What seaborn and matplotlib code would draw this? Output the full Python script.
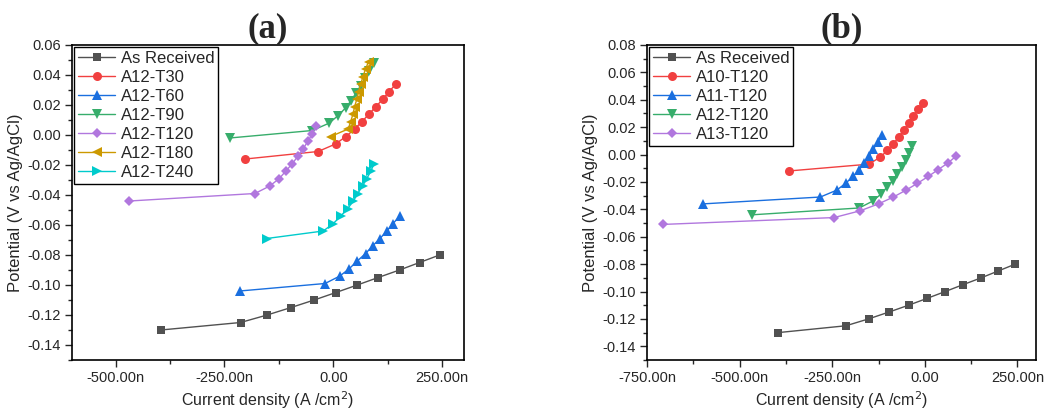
import matplotlib
matplotlib.use("Agg")
import matplotlib.pyplot as plt
import seaborn as sns
import pandas as pd
from matplotlib.ticker import MultipleLocator, FuncFormatter

# ---------------- data (current density in nA/cm^2, potential in V) -------------
ar_x = [-396, -213, -152, -97, -44, 6, 55, 103, 152, 198, 244]
ar_y = [-0.130, -0.125, -0.120, -0.115, -0.110, -0.105, -0.100, -0.095, -0.090, -0.085, -0.080]

# panel (a)
t30_x = [-202, -35, 5, 29, 49, 66, 82, 98, 114, 128, 144]
t30_y = [-0.016, -0.011, -0.006, -0.001, 0.004, 0.009, 0.014, 0.019, 0.024, 0.029, 0.034]
t60_x = [-215, -19, 15, 37, 55, 74, 90, 107, 123, 137, 153]
t60_y = [-0.104, -0.099, -0.094, -0.089, -0.084, -0.079, -0.074, -0.069, -0.064, -0.059, -0.054]
t90_x = [-238, -48, -9, 11, 28, 41, 52, 63, 73, 82, 94]
t90_y = [-0.002, 0.003, 0.008, 0.013, 0.018, 0.023, 0.028, 0.033, 0.038, 0.043, 0.048]
t120_x = [-468, -180, -146, -124, -109, -94, -81, -69, -58, -48, -40]
t120_y = [-0.044, -0.039, -0.034, -0.029, -0.024, -0.019, -0.014, -0.009, -0.004, 0.001, 0.006]
t180_x = [-6, 34, 40, 45, 49, 54, 58, 63, 68, 74, 81]
t180_y = [-0.001, 0.004, 0.009, 0.014, 0.019, 0.024, 0.029, 0.034, 0.039, 0.044, 0.049]
t240_x = [-153, -23, 0, 17, 33, 46, 56, 67, 77, 86, 94]
t240_y = [-0.069, -0.064, -0.059, -0.054, -0.049, -0.044, -0.039, -0.034, -0.029, -0.024, -0.019]

# panel (b)
a10_x = [-368, -151, -121, -101, -85, -70, -56, -43, -31, -18, -5]
a10_y = [-0.012, -0.007, -0.002, 0.003, 0.008, 0.013, 0.018, 0.023, 0.028, 0.033, 0.038]
a11_x = [-598, -282, -238, -214, -194, -177, -163, -150, -139, -127, -115]
a11_y = [-0.036, -0.031, -0.026, -0.021, -0.016, -0.011, -0.006, -0.001, 0.004, 0.009, 0.014]
a12_x = [-467, -177, -141, -119, -103, -87, -75, -63, -52, -42, -34]
a12_y = [-0.044, -0.039, -0.034, -0.029, -0.024, -0.019, -0.014, -0.009, -0.004, 0.001, 0.006]
a13_x = [-706, -245, -174, -125, -85, -51, -20, 9, 36, 63, 85]
a13_y = [-0.051, -0.046, -0.041, -0.036, -0.031, -0.026, -0.021, -0.016, -0.011, -0.006, -0.001]

labels_a = ["As Received", "A12-T30", "A12-T60", "A12-T90", "A12-T120", "A12-T180", "A12-T240"]
labels_b = ["As Received", "A10-T120", "A11-T120", "A12-T120", "A13-T120"]

# ---------------- styling ----------------
sns.set_theme(style="ticks")
plt.rcParams["font.family"] = ["Liberation Sans", "DejaVu Sans"]
plt.rcParams["axes.linewidth"] = 1.0

colors = ["#515151", "#F14040", "#1A6FDF", "#37AD6B", "#B177DE", "#CC9900", "#00CBCC"]
markers = ["s", "o", "^", "v", "D", "<", ">"]
msizes = [5.5, 6.5, 7, 7, 5.5, 7, 7]

fig = plt.figure(figsize=(10.47, 4.13), dpi=100)
W, H = 1047, 413
axA = fig.add_axes([72 / W, 1 - 360 / H, (464 - 72) / W, (360 - 45) / H])
axB = fig.add_axes([647 / W, 1 - 360 / H, (1036 - 647) / W, (360 - 45) / H])

series_a = [(ar_x, ar_y), (t30_x, t30_y), (t60_x, t60_y), (t90_x, t90_y),
            (t120_x, t120_y), (t180_x, t180_y), (t240_x, t240_y)]
series_b = [(ar_x, ar_y), (a10_x, a10_y), (a11_x, a11_y), (a12_x, a12_y), (a13_x, a13_y)]


def xfmt(v, pos):
    if abs(v) < 1e-9:
        return "0.00"
    return f"{v:.2f}n"


def draw(ax, series, labels, idxs):
    for (x, y), lab, i in zip(series, labels, idxs):
        df = pd.DataFrame({"x": x, "y": y})
        sns.lineplot(data=df, x="x", y="y", ax=ax, sort=False, estimator=None,
                     color=colors[i], marker=markers[i], markersize=msizes[i],
                     markeredgewidth=0, linewidth=1.0, label=lab)
    ax.set_xlabel("Current density (A /cm$^2$)", fontsize=11.5, labelpad=3)
    ax.set_ylabel("Potential (V vs Ag/AgCl)", fontsize=12, labelpad=3)
    ax.xaxis.set_major_formatter(FuncFormatter(xfmt))
    ax.yaxis.set_major_formatter(FuncFormatter(lambda v, p: f"{v:.2f}" if abs(v) > 1e-9 else "0.00"))
    ax.tick_params(which="major", direction="out", length=5, width=1, labelsize=10.5,
                   top=False, right=False, pad=3)
    ax.tick_params(which="minor", direction="out", length=3, width=1, top=False, right=False)
    for s in ax.spines.values():
        s.set_visible(True)
        s.set_color("black")
        s.set_linewidth(1.2)
    leg = ax.legend(loc="upper left", fontsize=12, frameon=True, fancybox=False,
                    edgecolor="black", framealpha=1, borderaxespad=0.12,
                    handlelength=2.2, handletextpad=0.35, labelspacing=0.24,
                    borderpad=0.25)
    leg.get_frame().set_linewidth(1.0)


draw(axA, series_a, labels_a, list(range(7)))
axA.set_xlim(-600, 300)
axA.set_ylim(-0.15, 0.06)
axA.xaxis.set_major_locator(MultipleLocator(250))
axA.xaxis.set_minor_locator(MultipleLocator(125))
axA.yaxis.set_major_locator(MultipleLocator(0.02))
axA.yaxis.set_minor_locator(MultipleLocator(0.01))
axA.set_title("(a)", fontsize=25, fontweight="bold", family="Liberation Serif", pad=5)

draw(axB, series_b, labels_b, [0, 1, 2, 3, 4])
axB.set_xlim(-750, 300)
axB.set_ylim(-0.15, 0.08)
axB.xaxis.set_major_locator(MultipleLocator(250))
axB.xaxis.set_minor_locator(MultipleLocator(125))
axB.yaxis.set_major_locator(MultipleLocator(0.02))
axB.yaxis.set_minor_locator(MultipleLocator(0.01))
axB.set_title("(b)", fontsize=25, fontweight="bold", family="Liberation Serif", pad=5)

fig.savefig("out.png", dpi=100)
